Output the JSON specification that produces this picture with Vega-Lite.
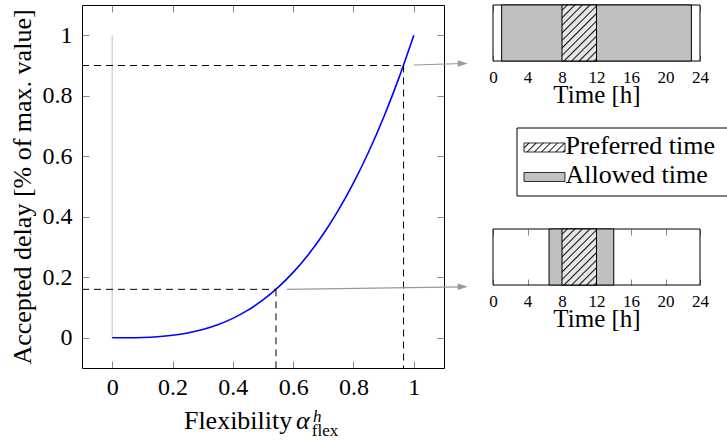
{
  "$schema": "https://vega.github.io/schema/vega-lite/v6.json",
  "padding": {"left": 9, "top": 4, "right": 0, "bottom": 0},
  "config": {
    "font": "Liberation Serif",
    "view": {"stroke": null},
    "axis": {"grid": false, "domain": true, "domainColor": "black", "domainWidth": 1, "tickColor": "#888888", "tickWidth": 1, "labelColor": "black", "titleColor": "black", "titleFontWeight": "normal", "labelFont": "Liberation Serif", "titleFont": "Liberation Serif", "labelOverlap": false, "labelFlush": false}
  },
  "hconcat": [
    {
      "width": 362,
      "height": 363,
      "layer": [
        {
          "data": {"values": [{"x": 0, "y": 0, "y2": 1}]},
          "mark": {"type": "rule", "color": "#c4c4c4", "strokeWidth": 1},
          "encoding": {
            "x": {"field": "x", "type": "quantitative", "scale": {"domain": [-0.1, 1.1], "nice": false, "zero": false}, "axis": {"orient": "top", "values": [0, 0.2, 0.4, 0.6, 0.8, 1], "labels": false, "tickSize": -7, "title": null}},
            "y": {"field": "y", "type": "quantitative", "scale": {"domain": [-0.1, 1.1], "nice": false, "zero": false}, "axis": {"orient": "right", "values": [0, 0.2, 0.4, 0.6, 0.8, 1], "labels": false, "tickSize": -7, "title": null}},
            "y2": {"field": "y2"}
          }
        },
        {
          "data": {"values": [
            {"x": 0, "y": 0}, {"x": 0.05, "y": 0.0001}, {"x": 0.1, "y": 0.001}, {"x": 0.15, "y": 0.0034},
            {"x": 0.2, "y": 0.008}, {"x": 0.25, "y": 0.0156}, {"x": 0.3, "y": 0.027}, {"x": 0.35, "y": 0.0429},
            {"x": 0.4, "y": 0.064}, {"x": 0.45, "y": 0.0911}, {"x": 0.5, "y": 0.125}, {"x": 0.55, "y": 0.1664},
            {"x": 0.6, "y": 0.216}, {"x": 0.65, "y": 0.2746}, {"x": 0.7, "y": 0.343}, {"x": 0.75, "y": 0.4219},
            {"x": 0.8, "y": 0.512}, {"x": 0.85, "y": 0.6141}, {"x": 0.9, "y": 0.729}, {"x": 0.95, "y": 0.8574},
            {"x": 1, "y": 1}
          ]},
          "mark": {"type": "line", "color": "#0000ff", "strokeWidth": 1.6, "interpolate": "monotone"},
          "encoding": {
            "x": {"field": "x", "type": "quantitative", "scale": {"domain": [-0.1, 1.1], "nice": false, "zero": false}, "axis": {"orient": "bottom", "values": [0, 0.2, 0.4, 0.6, 0.8, 1], "format": "~g", "tickSize": -7, "labelPadding": 14, "labelFontSize": 24, "title": null}},
            "y": {"field": "y", "type": "quantitative", "scale": {"domain": [-0.1, 1.1], "nice": false, "zero": false}, "axis": {"orient": "left", "values": [0, 0.2, 0.4, 0.6, 0.8, 1], "format": "~g", "tickSize": -7, "labelPadding": 17, "labelFontSize": 24, "title": "Accepted delay [% of max. value]", "titleFontSize": 26, "titlePadding": 7}}
          }
        },
        {
          "data": {"values": [
            {"x": -0.1, "x2": 0.966, "y": 0.9, "y2": 0.9},
            {"x": 0.966, "x2": 0.966, "y": 0.9, "y2": -0.1},
            {"x": -0.1, "x2": 0.543, "y": 0.16, "y2": 0.16},
            {"x": 0.543, "x2": 0.543, "y": 0.16, "y2": -0.1}
          ]},
          "mark": {"type": "rule", "color": "black", "strokeWidth": 1, "strokeDash": [7, 5]},
          "encoding": {
            "x": {"field": "x", "type": "quantitative", "scale": {"domain": [-0.1, 1.1], "nice": false, "zero": false}, "axis": null},
            "x2": {"field": "x2"},
            "y": {"field": "y", "type": "quantitative", "scale": {"domain": [-0.1, 1.1], "nice": false, "zero": false}, "axis": null},
            "y2": {"field": "y2"}
          }
        },
        {
          "data": {"values": [
            {"x": 1.0, "x2": 1.16, "y": 0.9017, "y2": 0.9066},
            {"x": 0.5796, "x2": 1.16, "y": 0.16, "y2": 0.1682}
          ]},
          "mark": {"type": "rule", "color": "#999999", "strokeWidth": 1.2},
          "encoding": {
            "x": {"field": "x", "type": "quantitative", "scale": {"domain": [-0.1, 1.1], "nice": false, "zero": false}, "axis": null},
            "x2": {"field": "x2"},
            "y": {"field": "y", "type": "quantitative", "scale": {"domain": [-0.1, 1.1], "nice": false, "zero": false}, "axis": null},
            "y2": {"field": "y2"}
          }
        },
        {
          "data": {"values": [
            {"x": 1.162, "y": 0.9068},
            {"x": 1.162, "y": 0.1684}
          ]},
          "mark": {"type": "point", "shape": "M-1,-0.65L1,0L-1,0.65Z", "size": 100, "filled": true, "color": "#999999", "opacity": 1},
          "encoding": {
            "x": {"field": "x", "type": "quantitative", "scale": {"domain": [-0.1, 1.1], "nice": false, "zero": false}, "axis": null},
            "y": {"field": "y", "type": "quantitative", "scale": {"domain": [-0.1, 1.1], "nice": false, "zero": false}, "axis": null}
          }
        },
        {
          "data": {"values": [{"label": "Flexibility"}]},
          "mark": {"type": "text", "align": "right", "baseline": "alphabetic", "fontSize": 26},
          "encoding": {
            "x": {"datum": 0.597, "type": "quantitative", "scale": {"domain": [-0.1, 1.1], "nice": false, "zero": false}, "axis": null},
            "y": {"datum": -0.3017, "type": "quantitative", "scale": {"domain": [-0.1, 1.1], "nice": false, "zero": false}, "axis": null},
            "text": {"field": "label"}
          }
        },
        {
          "data": {"values": [{"label": "α"}]},
          "mark": {"type": "text", "align": "left", "baseline": "alphabetic", "fontSize": 26, "fontStyle": "italic"},
          "encoding": {
            "x": {"datum": 0.609, "type": "quantitative", "scale": {"domain": [-0.1, 1.1], "nice": false, "zero": false}, "axis": null},
            "y": {"datum": -0.3017, "type": "quantitative", "scale": {"domain": [-0.1, 1.1], "nice": false, "zero": false}, "axis": null},
            "text": {"field": "label"}
          }
        },
        {
          "data": {"values": [{"label": "h"}]},
          "mark": {"type": "text", "align": "left", "baseline": "alphabetic", "fontSize": 17, "fontStyle": "italic"},
          "encoding": {
            "x": {"datum": 0.666, "type": "quantitative", "scale": {"domain": [-0.1, 1.1], "nice": false, "zero": false}, "axis": null},
            "y": {"datum": -0.2785, "type": "quantitative", "scale": {"domain": [-0.1, 1.1], "nice": false, "zero": false}, "axis": null},
            "text": {"field": "label"}
          }
        },
        {
          "data": {"values": [{"label": "flex"}]},
          "mark": {"type": "text", "align": "left", "baseline": "alphabetic", "fontSize": 17},
          "encoding": {
            "x": {"datum": 0.662, "type": "quantitative", "scale": {"domain": [-0.1, 1.1], "nice": false, "zero": false}, "axis": null},
            "y": {"datum": -0.3248, "type": "quantitative", "scale": {"domain": [-0.1, 1.1], "nice": false, "zero": false}, "axis": null},
            "text": {"field": "label"}
          }
        }
      ],
      "resolve": {"axis": {"x": "independent", "y": "independent"}}
    },
    {
      "vconcat": [
        {
          "width": 207,
          "height": 56,
          "layer": [
            {
              "data": {"values": [{"kind": "Day", "start": 0, "end": 24}]},
              "mark": {"type": "rect", "fill": "transparent", "stroke": "black", "strokeWidth": 1},
              "encoding": {
                "x": {"field": "start", "type": "quantitative", "scale": {"domain": [0, 24], "nice": false, "zero": false}, "axis": {"orient": "bottom", "domain": false, "values": [0, 4, 8, 12, 16, 20, 24], "format": "d", "tickSize": -6, "labelPadding": 14, "labelFontSize": 17, "title": "Time [h]", "titleFontSize": 25, "titlePadding": -3}},
                "x2": {"field": "end"},
                "y": {"datum": 0, "type": "quantitative", "scale": {"domain": [0, 1], "nice": false, "zero": false}, "axis": null},
                "y2": {"datum": 1}
              }
            },
            {
              "data": {"values": [{"kind": "Allowed time", "start": 1, "end": 23}]},
              "mark": {"type": "rect", "fill": "#c0c0c0", "stroke": "black", "strokeWidth": 1},
              "encoding": {
                "x": {"field": "start", "type": "quantitative", "scale": {"domain": [0, 24], "nice": false, "zero": false}, "axis": {"orient": "top", "domain": false, "values": [0, 4, 8, 12, 16, 20, 24], "labels": false, "tickSize": -6, "title": null}},
                "x2": {"field": "end"},
                "y": {"datum": 0, "type": "quantitative", "scale": {"domain": [0, 1], "nice": false, "zero": false}, "axis": null},
                "y2": {"datum": 1}
              }
            },
            {
              "data": {"values": [{"kind": "Preferred time", "start": 8, "end": 12}]},
              "mark": {"type": "rect", "stroke": "black", "strokeWidth": 1, "fill": {"gradient": "linear", "x1": 0, "y1": 0, "x2": 0.7216, "y2": 1.1715, "stops": [
                {"offset": 0, "color": "#e6e6e6"},
                {"offset": 0.0417, "color": "#e6e6e6"}, {"offset": 0.0583, "color": "#1a1a1a"}, {"offset": 0.075, "color": "#e6e6e6"},
                {"offset": 0.125, "color": "#e6e6e6"}, {"offset": 0.1417, "color": "#1a1a1a"}, {"offset": 0.1583, "color": "#e6e6e6"},
                {"offset": 0.2083, "color": "#e6e6e6"}, {"offset": 0.225, "color": "#1a1a1a"}, {"offset": 0.2417, "color": "#e6e6e6"},
                {"offset": 0.2917, "color": "#e6e6e6"}, {"offset": 0.3083, "color": "#1a1a1a"}, {"offset": 0.325, "color": "#e6e6e6"},
                {"offset": 0.375, "color": "#e6e6e6"}, {"offset": 0.3917, "color": "#1a1a1a"}, {"offset": 0.4083, "color": "#e6e6e6"},
                {"offset": 0.4583, "color": "#e6e6e6"}, {"offset": 0.475, "color": "#1a1a1a"}, {"offset": 0.4917, "color": "#e6e6e6"},
                {"offset": 0.5417, "color": "#e6e6e6"}, {"offset": 0.5583, "color": "#1a1a1a"}, {"offset": 0.575, "color": "#e6e6e6"},
                {"offset": 0.625, "color": "#e6e6e6"}, {"offset": 0.6417, "color": "#1a1a1a"}, {"offset": 0.6583, "color": "#e6e6e6"},
                {"offset": 0.7083, "color": "#e6e6e6"}, {"offset": 0.725, "color": "#1a1a1a"}, {"offset": 0.7417, "color": "#e6e6e6"},
                {"offset": 0.7917, "color": "#e6e6e6"}, {"offset": 0.8083, "color": "#1a1a1a"}, {"offset": 0.825, "color": "#e6e6e6"},
                {"offset": 0.875, "color": "#e6e6e6"}, {"offset": 0.8917, "color": "#1a1a1a"}, {"offset": 0.9083, "color": "#e6e6e6"},
                {"offset": 0.9583, "color": "#e6e6e6"}, {"offset": 0.975, "color": "#1a1a1a"}, {"offset": 0.9917, "color": "#e6e6e6"},
                {"offset": 1, "color": "#e6e6e6"}
              ]}},
              "encoding": {
                "x": {"field": "start", "type": "quantitative", "scale": {"domain": [0, 24], "nice": false, "zero": false}, "axis": null},
                "x2": {"field": "end"},
                "y": {"datum": 0, "type": "quantitative", "scale": {"domain": [0, 1], "nice": false, "zero": false}, "axis": null},
                "y2": {"datum": 1}
              }
            }
          ],
          "resolve": {"axis": {"x": "independent"}}
        },
        {
          "width": 240,
          "height": 121,
          "layer": [
            {
              "data": {"values": [{"kind": "legend"}]},
              "mark": {"type": "rect", "fill": "white", "stroke": "black", "strokeWidth": 1},
              "encoding": {
                "x": {"datum": 0.1, "type": "quantitative", "scale": {"domain": [0, 1], "nice": false, "zero": false}, "axis": null},
                "x2": {"datum": 1.05},
                "y": {"datum": 0.2645, "type": "quantitative", "scale": {"domain": [0, 1], "nice": false, "zero": false}, "axis": null},
                "y2": {"datum": 0.8264}
              }
            },
            {
              "data": {"values": [{"label": "Preferred time"}]},
              "mark": {"type": "point", "shape": "M-1,-0.22H1V0.22H-1Z", "size": 1681, "filled": true, "opacity": 1, "stroke": "black", "strokeWidth": 0.8, "fill": {"gradient": "linear", "x1": 0, "y1": 0, "x2": 1.1634, "y2": 0.2554, "stops": [
                {"offset": 0, "color": "#ffffff"},
                {"offset": 0.0714, "color": "#ffffff"}, {"offset": 0.1, "color": "#1a1a1a"}, {"offset": 0.1286, "color": "#ffffff"},
                {"offset": 0.2143, "color": "#ffffff"}, {"offset": 0.2429, "color": "#1a1a1a"}, {"offset": 0.2714, "color": "#ffffff"},
                {"offset": 0.3571, "color": "#ffffff"}, {"offset": 0.3857, "color": "#1a1a1a"}, {"offset": 0.4143, "color": "#ffffff"},
                {"offset": 0.5, "color": "#ffffff"}, {"offset": 0.5286, "color": "#1a1a1a"}, {"offset": 0.5571, "color": "#ffffff"},
                {"offset": 0.6429, "color": "#ffffff"}, {"offset": 0.6714, "color": "#1a1a1a"}, {"offset": 0.7, "color": "#ffffff"},
                {"offset": 0.7857, "color": "#ffffff"}, {"offset": 0.8143, "color": "#1a1a1a"}, {"offset": 0.8429, "color": "#ffffff"},
                {"offset": 0.9286, "color": "#ffffff"}, {"offset": 0.9571, "color": "#1a1a1a"}, {"offset": 0.9857, "color": "#ffffff"},
                {"offset": 1, "color": "#ffffff"}
              ]}},
              "encoding": {
                "x": {"datum": 0.2146, "type": "quantitative", "scale": {"domain": [0, 1], "nice": false, "zero": false}, "axis": null},
                "y": {"datum": 0.6653, "type": "quantitative", "scale": {"domain": [0, 1], "nice": false, "zero": false}, "axis": null}
              }
            },
            {
              "data": {"values": [{"label": "Allowed time"}]},
              "mark": {"type": "point", "shape": "M-1,-0.22H1V0.22H-1Z", "size": 1681, "filled": true, "opacity": 1, "stroke": "black", "strokeWidth": 0.8, "fill": "#c0c0c0"},
              "encoding": {
                "x": {"datum": 0.2146, "type": "quantitative", "scale": {"domain": [0, 1], "nice": false, "zero": false}, "axis": null},
                "y": {"datum": 0.4215, "type": "quantitative", "scale": {"domain": [0, 1], "nice": false, "zero": false}, "axis": null}
              }
            },
            {
              "data": {"values": [{"label": "Preferred time"}]},
              "mark": {"type": "text", "align": "left", "baseline": "alphabetic", "fontSize": 26},
              "encoding": {
                "x": {"datum": 0.3021, "type": "quantitative", "scale": {"domain": [0, 1], "nice": false, "zero": false}, "axis": null},
                "y": {"datum": 0.609, "type": "quantitative", "scale": {"domain": [0, 1], "nice": false, "zero": false}, "axis": null},
                "text": {"field": "label"}
              }
            },
            {
              "data": {"values": [{"label": "Allowed time"}]},
              "mark": {"type": "text", "align": "left", "baseline": "alphabetic", "fontSize": 26},
              "encoding": {
                "x": {"datum": 0.3021, "type": "quantitative", "scale": {"domain": [0, 1], "nice": false, "zero": false}, "axis": null},
                "y": {"datum": 0.3694, "type": "quantitative", "scale": {"domain": [0, 1], "nice": false, "zero": false}, "axis": null},
                "text": {"field": "label"}
              }
            }
          ]
        },
        {
          "width": 207,
          "height": 56,
          "layer": [
            {
              "data": {"values": [{"kind": "Day", "start": 0, "end": 24}]},
              "mark": {"type": "rect", "fill": "transparent", "stroke": "black", "strokeWidth": 1},
              "encoding": {
                "x": {"field": "start", "type": "quantitative", "scale": {"domain": [0, 24], "nice": false, "zero": false}, "axis": {"orient": "bottom", "domain": false, "values": [0, 4, 8, 12, 16, 20, 24], "format": "d", "tickSize": -6, "labelPadding": 14, "labelFontSize": 17, "title": "Time [h]", "titleFontSize": 25, "titlePadding": -3}},
                "x2": {"field": "end"},
                "y": {"datum": 0, "type": "quantitative", "scale": {"domain": [0, 1], "nice": false, "zero": false}, "axis": null},
                "y2": {"datum": 1}
              }
            },
            {
              "data": {"values": [{"kind": "Allowed time", "start": 6.5, "end": 14}]},
              "mark": {"type": "rect", "fill": "#c0c0c0", "stroke": "black", "strokeWidth": 1},
              "encoding": {
                "x": {"field": "start", "type": "quantitative", "scale": {"domain": [0, 24], "nice": false, "zero": false}, "axis": {"orient": "top", "domain": false, "values": [0, 4, 8, 12, 16, 20, 24], "labels": false, "tickSize": -6, "title": null}},
                "x2": {"field": "end"},
                "y": {"datum": 0, "type": "quantitative", "scale": {"domain": [0, 1], "nice": false, "zero": false}, "axis": null},
                "y2": {"datum": 1}
              }
            },
            {
              "data": {"values": [{"kind": "Preferred time", "start": 8, "end": 12}]},
              "mark": {"type": "rect", "stroke": "black", "strokeWidth": 1, "fill": {"gradient": "linear", "x1": 0, "y1": 0, "x2": 0.7216, "y2": 1.1715, "stops": [
                {"offset": 0, "color": "#e6e6e6"},
                {"offset": 0.0417, "color": "#e6e6e6"}, {"offset": 0.0583, "color": "#1a1a1a"}, {"offset": 0.075, "color": "#e6e6e6"},
                {"offset": 0.125, "color": "#e6e6e6"}, {"offset": 0.1417, "color": "#1a1a1a"}, {"offset": 0.1583, "color": "#e6e6e6"},
                {"offset": 0.2083, "color": "#e6e6e6"}, {"offset": 0.225, "color": "#1a1a1a"}, {"offset": 0.2417, "color": "#e6e6e6"},
                {"offset": 0.2917, "color": "#e6e6e6"}, {"offset": 0.3083, "color": "#1a1a1a"}, {"offset": 0.325, "color": "#e6e6e6"},
                {"offset": 0.375, "color": "#e6e6e6"}, {"offset": 0.3917, "color": "#1a1a1a"}, {"offset": 0.4083, "color": "#e6e6e6"},
                {"offset": 0.4583, "color": "#e6e6e6"}, {"offset": 0.475, "color": "#1a1a1a"}, {"offset": 0.4917, "color": "#e6e6e6"},
                {"offset": 0.5417, "color": "#e6e6e6"}, {"offset": 0.5583, "color": "#1a1a1a"}, {"offset": 0.575, "color": "#e6e6e6"},
                {"offset": 0.625, "color": "#e6e6e6"}, {"offset": 0.6417, "color": "#1a1a1a"}, {"offset": 0.6583, "color": "#e6e6e6"},
                {"offset": 0.7083, "color": "#e6e6e6"}, {"offset": 0.725, "color": "#1a1a1a"}, {"offset": 0.7417, "color": "#e6e6e6"},
                {"offset": 0.7917, "color": "#e6e6e6"}, {"offset": 0.8083, "color": "#1a1a1a"}, {"offset": 0.825, "color": "#e6e6e6"},
                {"offset": 0.875, "color": "#e6e6e6"}, {"offset": 0.8917, "color": "#1a1a1a"}, {"offset": 0.9083, "color": "#e6e6e6"},
                {"offset": 0.9583, "color": "#e6e6e6"}, {"offset": 0.975, "color": "#1a1a1a"}, {"offset": 0.9917, "color": "#e6e6e6"},
                {"offset": 1, "color": "#e6e6e6"}
              ]}},
              "encoding": {
                "x": {"field": "start", "type": "quantitative", "scale": {"domain": [0, 24], "nice": false, "zero": false}, "axis": null},
                "x2": {"field": "end"},
                "y": {"datum": 0, "type": "quantitative", "scale": {"domain": [0, 1], "nice": false, "zero": false}, "axis": null},
                "y2": {"datum": 1}
              }
            }
          ],
          "resolve": {"axis": {"x": "independent"}}
        }
      ],
      "spacing": 0
    }
  ],
  "spacing": 20
}
